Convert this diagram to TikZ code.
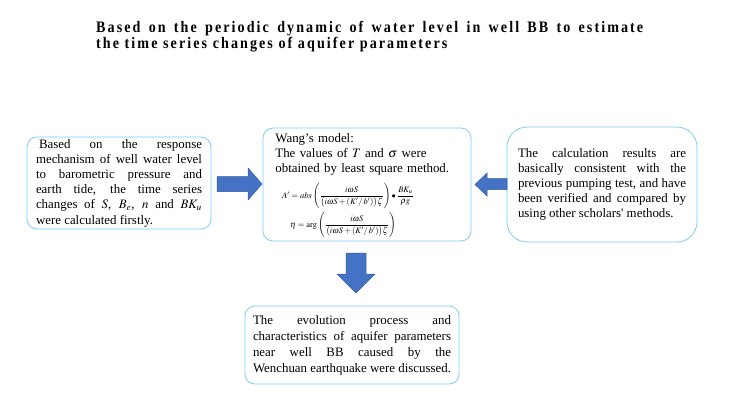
\documentclass[tikz,border=0pt]{standalone}
\usepackage{amsmath}
\usepackage{mathptmx}
\usepackage{fontspec}
\setmainfont{Liberation Serif}
\usetikzlibrary{positioning}
\definecolor{boxline}{RGB}{125,205,245}
\definecolor{arrfill}{RGB}{68,114,196}
\definecolor{arrline}{RGB}{52,92,160}

\begin{document}
\begin{tikzpicture}[x=1pt, y=-1pt,
  box/.style={draw=boxline, line width=0.8pt, rounded corners=10pt, inner sep=0pt, font=\fontsize{12.9}{15.2}\selectfont},
  formula/.style={inner sep=0pt, anchor=west, font=\fontsize{8.5}{10}\selectfont},
  barrow/.style={fill=arrfill, draw=arrline, line width=0.5pt}]
	\useasboundingbox (0,0) rectangle (740,415);
	\node[anchor=north west, text width=547pt, align=justify, inner sep=0pt,
	  font=\fontsize{16}{16.5}\selectfont\addfontfeature{FakeStretch=0.88,LetterSpace=13}\bfseries] (title) at (96,21)
	  {Based on the periodic dynamic of water level in well BB to estimate\linebreak the time series changes of aquifer parameters};
	
	\node[box, minimum width=184pt, minimum height=92pt, text width=166pt, align=justify] (calc) at (119,183)
	  {\hspace*{3pt}Based on the response\linebreak mechanism of well water level\linebreak to barometric pressure and\linebreak earth tide, the time series\linebreak changes of $S$, $B_e$, $n$ and $BK_u$\linebreak were calculated firstly.};
	\node[box, minimum width=208pt, minimum height=113pt] (wang) at (367,184.5) {};
	\node[box, draw=none, anchor=north west, text width=184pt, align=left] (wangtxt) at (275,133)
	  {Wang’s model:\\The values of $T$ and $\sigma$ were\\obtained by least square method.};
	\node[formula] (fA) at (282,196)
	  {$A' = \mathit{abs}\left(\dfrac{i\omega S}{\bigl(i\omega S+(K'/\,b')\bigr)\zeta}\right)\bullet\dfrac{BK_u}{\rho g}$};
	\node[formula] (feta) at (290,225)
	  {$\eta = \arg\left(\dfrac{i\omega S}{\bigl(i\omega S+(K'/\,b')\bigr)\zeta}\right)$};
	\node[box, rounded corners=20pt, minimum width=190pt, minimum height=115pt, text width=168pt, align=justify] (check) at (602,184.5)
	  {The calculation results are\linebreak basically consistent with the\linebreak previous pumping test, and have\linebreak been verified and compared by\linebreak using other scholars\textquotesingle{} methods.};
	\node[box, minimum width=214pt, minimum height=78pt, text width=198pt, align=justify, font=\fontsize{12.9}{16}\selectfont] (evol) at (352,345)
	  {The evolution process and\linebreak characteristics of aquifer parameters\linebreak near well BB caused by the\linebreak Wenchuan earthquake were discussed.};
	
	% block arrows
	\draw[barrow] (217,176.5) -- (248,176.5) -- (248,168) -- (262,184) -- (248,200) -- (248,191.5) -- (217,191.5) -- cycle;
	\draw[barrow] (507,178.5) -- (487,178.5) -- (487,173) -- (475,184.5) -- (487,196) -- (487,189.5) -- (507,189.5) -- cycle;
	\draw[barrow] (346,253) -- (366,253) -- (366,274) -- (375,274) -- (356,293) -- (337,274) -- (346,274) -- cycle;
\end{tikzpicture}
\end{document}
